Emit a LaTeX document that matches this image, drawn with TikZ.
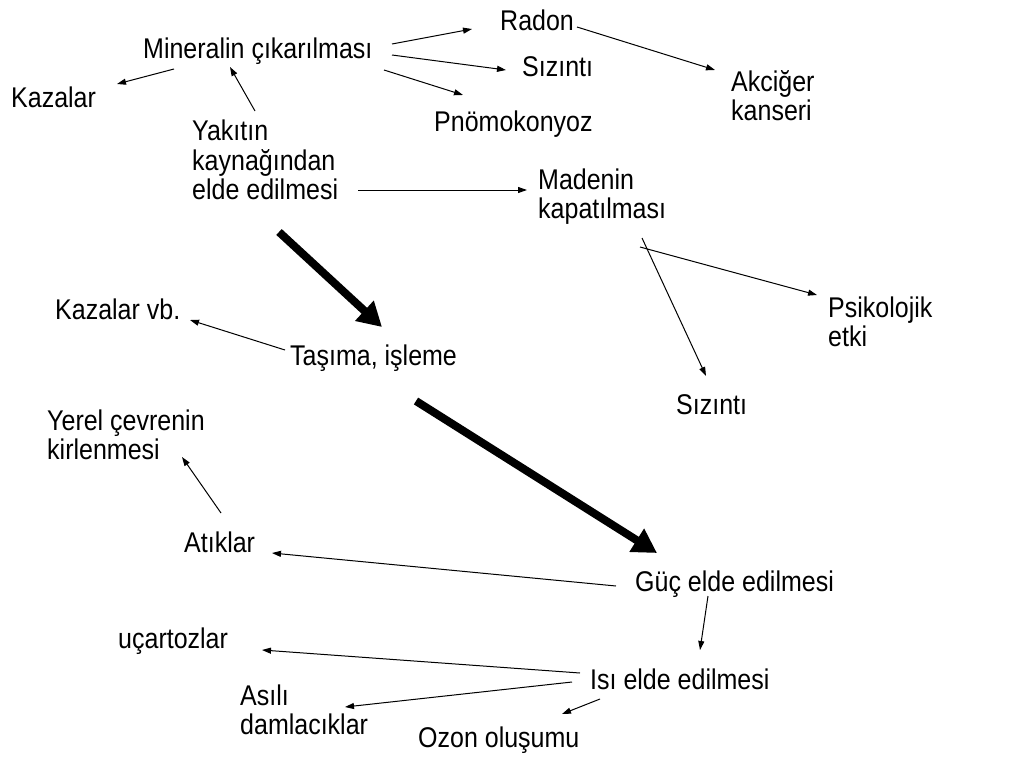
\documentclass[tikz,border=0pt]{standalone}
\usepackage{fontspec}
\usepackage{graphicx}
\setmainfont{Liberation Sans}
\usetikzlibrary{arrows.meta}
\newcommand{\tx}[1]{\scalebox{1}[1.14]{\begin{tabular}[t]{@{}l@{}}#1\end{tabular}}}
\begin{document}
\begin{tikzpicture}[x=1pt,y=-1pt,
  lbl/.style={anchor=base west,inner sep=0pt,font=\fontsize{25}{26.3}\selectfont},
  thin/.style={line width=1pt,-{Triangle[length=9pt,width=6pt]}},
  thick/.style={line width=8pt,-{Triangle[length=24pt,width=26pt]}}]
\useasboundingbox[fill=white] (0,0) rectangle (1024,768);
% labels
\node[lbl] (radon) at (500,31) {\tx{Radon}};
\node[lbl] (miner) at (143,59) {\tx{Mineralin çıkarılması}};
\node[lbl] (siz1) at (522,76) {\tx{Sızıntı}};
\node[lbl] (kaz) at (11,107) {\tx{Kazalar}};
\node[lbl] (pnomo) at (434,131) {\tx{Pnömokonyoz}};
\node[lbl] (akc) at (731,91) {\tx{Akciğer\\kanseri}};
\node[lbl] (yak) at (192,140) {\tx{Yakıtın\\kaynağından\\elde edilmesi}};
\node[lbl] (mad) at (538,189) {\tx{Madenin\\kapatılması}};
\node[lbl] (kazvb) at (55,319) {\tx{Kazalar vb.}};
\node[lbl] (tasima) at (290,365) {\tx{Taşıma, işleme}};
\node[lbl] (psi) at (828,317) {\tx{Psikolojik\\etki}};
\node[lbl] (siz2) at (676,414) {\tx{Sızıntı}};
\node[lbl] (yerel) at (47,430) {\tx{Yerel çevrenin\\kirlenmesi}};
\node[lbl] (atik) at (184,552) {\tx{Atıklar}};
\node[lbl] (guc) at (635,591) {\tx{Güç elde edilmesi}};
\node[lbl] (ucar) at (118,648) {\tx{uçartozlar}};
\node[lbl] (isi) at (590,689) {\tx{Isı elde edilmesi}};
\node[lbl] (asili) at (240,705) {\tx{Asılı\\damlacıklar}};
\node[lbl] (ozon) at (418,747) {\tx{Ozon oluşumu}};
% connector end points
\coordinate (mR1) at (392,44); \coordinate (mR2) at (472,29);
\coordinate (mS1) at (392,55); \coordinate (mS2) at (506,70);
\coordinate (mP1) at (384,70); \coordinate (mP2) at (463,95);
\coordinate (mK1) at (174,69); \coordinate (mK2) at (117,84);
\coordinate (yM1) at (255,111); \coordinate (yM2) at (230,67);
\coordinate (rA1) at (577,27); \coordinate (rA2) at (715,70);
\coordinate (yD1) at (358,190); \coordinate (yD2) at (527,190);
\coordinate (dS1) at (642,238); \coordinate (dS2) at (706,376);
\coordinate (dP1) at (640,247); \coordinate (dP2) at (817,295);
\coordinate (tK1) at (285,350); \coordinate (tK2) at (190,320);
\coordinate (aY1) at (221,513); \coordinate (aY2) at (182,457);
\coordinate (gA1) at (616,586); \coordinate (gA2) at (272,553);
\coordinate (gI1) at (708,596); \coordinate (gI2) at (700,650);
\coordinate (iU1) at (580,673); \coordinate (iU2) at (262,650);
\coordinate (iA1) at (572,682); \coordinate (iA2) at (345,707);
\coordinate (iO1) at (600,699); \coordinate (iO2) at (562,714);
\coordinate (T11) at (279,232); \coordinate (T12) at (382,327);
\coordinate (T21) at (416,401); \coordinate (T22) at (657,553);
% connectors
\draw[thin] (mR1) -- (mR2);
\draw[thin] (mS1) -- (mS2);
\draw[thin] (mP1) -- (mP2);
\draw[thin] (mK1) -- (mK2);
\draw[thin] (yM1) -- (yM2);
\draw[thin] (rA1) -- (rA2);
\draw[thin] (yD1) -- (yD2);
\draw[thin] (dS1) -- (dS2);
\draw[thin] (dP1) -- (dP2);
\draw[thin] (tK1) -- (tK2);
\draw[thin] (aY1) -- (aY2);
\draw[thin] (gA1) -- (gA2);
\draw[thin] (gI1) -- (gI2);
\draw[thin] (iU1) -- (iU2);
\draw[thin] (iA1) -- (iA2);
\draw[thin] (iO1) -- (iO2);
\draw[thick] (T11) -- (T12);
\draw[thick] (T21) -- (T22);
\end{tikzpicture}
\end{document}
